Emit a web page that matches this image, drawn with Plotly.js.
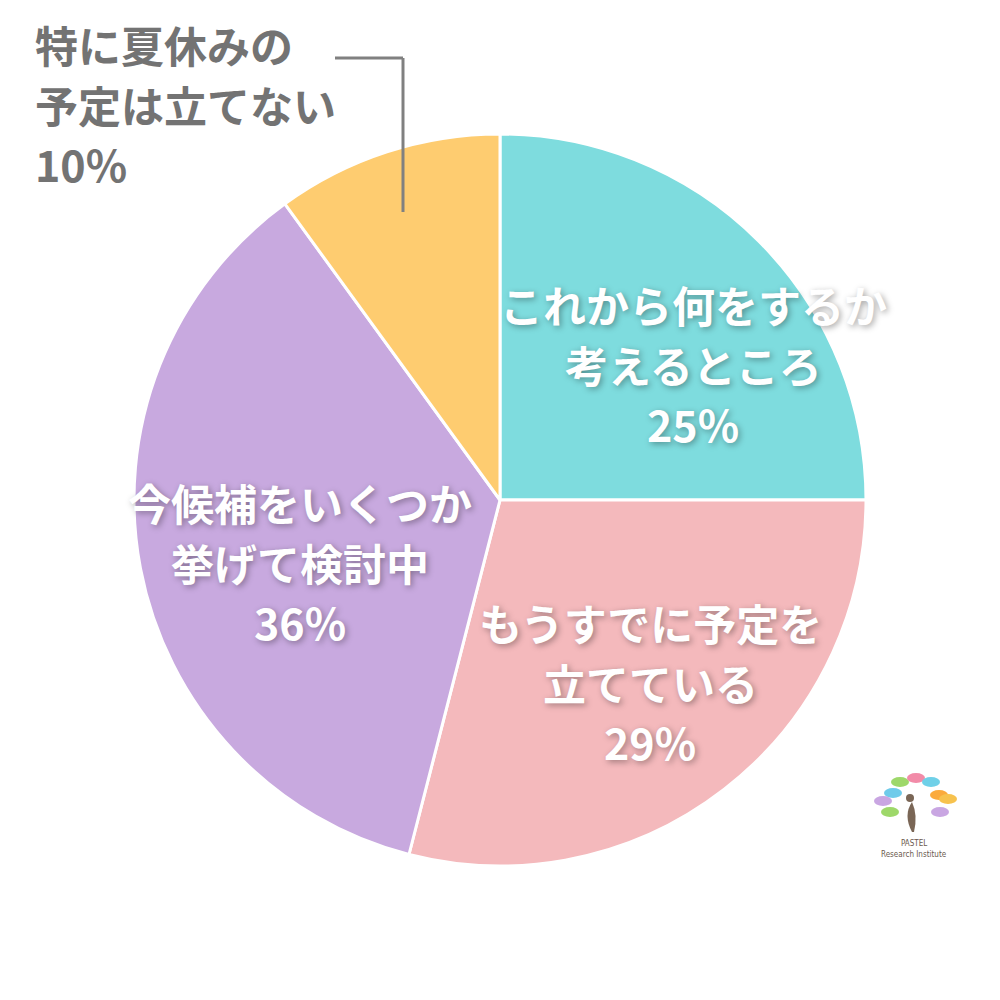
<!DOCTYPE html>
<html><head><meta charset="utf-8">
<script src="https://cdn.plot.ly/plotly-3.0.1.min.js"></script>
<style>body{margin:0;background:#fff}#chart{width:1000px;height:1000px}</style>
</head><body><div id="chart"></div>
<script>
const categories = ["これから何をするか考えるところ","もうすでに予定を立てている","今候補をいくつか挙げて検討中","特に夏休みの予定は立てない"];
const labelLines = [["これから何をするか","考えるところ"],["もうすでに予定を","立てている"],["今候補をいくつか","挙げて検討中"],["特に夏休みの","予定は立てない"]];
const values = [25, 29, 36, 10];
const colors = ["#7EDCDE","#F4B9BC","#C8A9DF","#FECC70"];

// label anchor positions (paper coords) for each slice's label block
const labelPos = [
  {x:0.693, y:1-304/1000, xanchor:"center", color:"#FFFFFF", inside:true},
  {x:0.650, y:1-622/1000, xanchor:"center", color:"#FFFFFF", inside:true},
  {x:0.300, y:1-502/1000, xanchor:"center", color:"#FFFFFF", inside:true},
  {x:0.033, y:1-44/1000,  xanchor:"left",   color:"#737373", inside:false}
];
const lineGap = 0.0595;

const annotations = [];
labelLines.forEach((lines, i) => {
  const p = labelPos[i];
  const all = lines.concat([values[i] + "%"]);
  all.forEach((t, j) => {
    annotations.push({
      text: t, xref:"paper", yref:"paper", x:p.x, y:p.y - j*lineGap,
      xanchor:p.xanchor, yanchor:"middle", showarrow:false,
      font:{family:"'Noto Sans CJK JP', sans-serif", size:43, weight:700, color:p.color,
            shadow: p.inside ? "2px 2px 6px rgba(0,0,0,0.35)" : "none"}
    });
  });
});
// logo text
annotations.push({text:"PASTEL", xref:"paper", yref:"paper", x:0.914, y:1-843/1000, xanchor:"center", yanchor:"middle", showarrow:false,
  font:{family:"'Liberation Sans Narrow', 'DejaVu Sans Condensed', sans-serif", size:8, color:"#6b5a4e"}});
annotations.push({text:"Research Institute", xref:"paper", yref:"paper", x:0.914, y:1-854/1000, xanchor:"center", yanchor:"middle", showarrow:false,
  font:{family:"'Liberation Sans Narrow', 'DejaVu Sans Condensed', sans-serif", size:8, color:"#6b5a4e"}});

const shapes = [
  // leader line
  {type:"line", xref:"paper", yref:"paper", x0:0.335, y0:1-0.058, x1:0.403, y1:1-0.058, line:{color:"#808080", width:3}},
  {type:"line", xref:"paper", yref:"paper", x0:0.403, y0:1-0.058, x1:0.403, y1:1-0.212, line:{color:"#808080", width:3}}
];
// logo petals
const petals = [
  [0.900,0.782,"#9ED86A"],[0.916,0.778,"#F28BA8"],[0.931,0.782,"#6FD0E8"],
  [0.893,0.793,"#6FCBEA"],[0.939,0.795,"#FBAA3C"],
  [0.883,0.801,"#C9A6E2"],[0.948,0.799,"#F7C24E"],
  [0.890,0.812,"#9ED86A"],[0.940,0.812,"#C9A6E2"]
];
petals.forEach(p => shapes.push({type:"circle", xref:"paper", yref:"paper",
  x0:p[0]-0.009, x1:p[0]+0.009, y0:1-p[1]-0.005, y1:1-p[1]+0.005, fillcolor:p[2], line:{width:0}}));
shapes.push({type:"path", xref:"paper", yref:"paper",
  path:"M 0.912 0.168 Q 0.903 0.185 0.912 0.198 Q 0.918 0.185 0.914 0.168 Z", fillcolor:"#7a6656", line:{width:0}});
shapes.push({type:"circle", xref:"paper", yref:"paper", x0:0.906, x1:0.914, y0:0.198, y1:0.206, fillcolor:"#7a6656", line:{width:0}});

const data = [{
  type:"pie", labels:categories, values:values, sort:false, direction:"clockwise", rotation:0,
  marker:{colors:colors, line:{color:"#FFFFFF", width:3}},
  textinfo:"none", hoverinfo:"label+percent", showlegend:false,
  domain:{x:[0.134,0.866], y:[0.134,0.866]}
}];
const layout = {width:1000, height:1000, margin:{l:0,r:0,t:0,b:0},
  paper_bgcolor:"#FFFFFF", plot_bgcolor:"#FFFFFF", showlegend:false,
  annotations:annotations, shapes:shapes};
Plotly.newPlot("chart", data, layout, {displayModeBar:false, staticPlot:true});
</script></body></html>
